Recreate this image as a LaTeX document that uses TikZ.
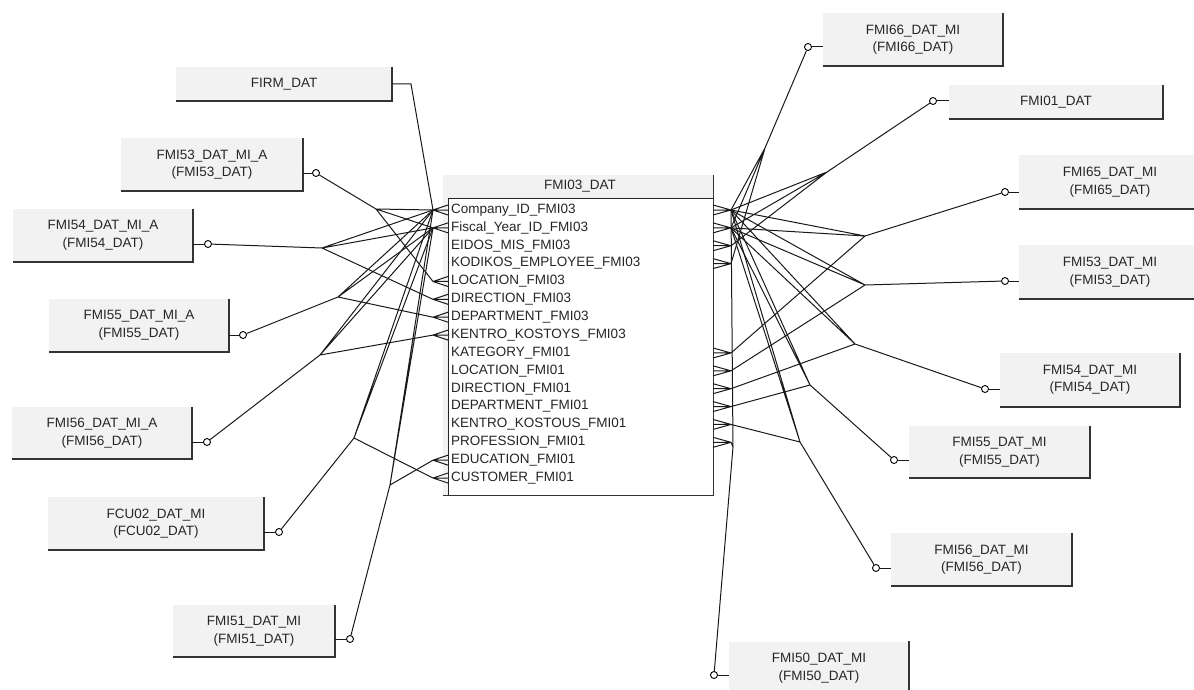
\documentclass[tikz,border=0pt]{standalone}
\usepackage{fontspec}
\setmainfont{Liberation Sans}
\usetikzlibrary{calc}

\begin{document}
\begin{tikzpicture}[x=1pt,y=-1pt,
		lbl/.style={font=\fontsize{13.5}{17.5}\selectfont, text=black!85, align=center},
		tbox/.style={lbl, fill=black!5, inner sep=0pt},
		boxrim/.style={line width=1.8pt, black!80},
		rel/.style={line width=1pt, black!90},
		foot/.style={line width=1pt, black!90},
		ring/.style={circle, draw, line width=0.9pt, fill=white, inner sep=0pt, minimum size=7pt},
		rowtxt/.style={lbl, anchor=west, inner sep=0pt}]
		
		\useasboundingbox (0,0) rectangle (1194,690);
		
		% tables on the left
		\node[tbox, minimum width=216pt, minimum height=34pt] (firm) at (284,84) {FIRM\_DAT};
		\node[tbox, minimum width=182pt, minimum height=53pt] (a53) at (212,164.5) {FMI53\_DAT\_MI\_A\\(FMI53\_DAT)};
		\node[tbox, minimum width=180pt, minimum height=53pt] (a54) at (103,235.5) {FMI54\_DAT\_MI\_A\\(FMI54\_DAT)};
		\node[tbox, minimum width=180pt, minimum height=53pt] (a55) at (139,325.5) {FMI55\_DAT\_MI\_A\\(FMI55\_DAT)};
		\node[tbox, minimum width=180pt, minimum height=52pt] (a56) at (102,433) {FMI56\_DAT\_MI\_A\\(FMI56\_DAT)};
		\node[tbox, minimum width=216pt, minimum height=53pt] (fcu02) at (156,523.5) {FCU02\_DAT\_MI\\(FCU02\_DAT)};
		\node[tbox, minimum width=162pt, minimum height=52pt] (m51) at (254,631) {FMI51\_DAT\_MI\\(FMI51\_DAT)};
		
		% tables on the right
		\node[tbox, minimum width=180pt, minimum height=53pt] (m66) at (913,39.5) {FMI66\_DAT\_MI\\(FMI66\_DAT)};
		\node[tbox, minimum width=214pt, minimum height=34pt] (m01) at (1056,102) {FMI01\_DAT};
		\node[tbox, minimum width=182pt, minimum height=54pt] (m65) at (1110,182) {FMI65\_DAT\_MI\\(FMI65\_DAT)};
		\node[tbox, minimum width=182pt, minimum height=54pt] (m53) at (1110,272) {FMI53\_DAT\_MI\\(FMI53\_DAT)};
		\node[tbox, minimum width=180pt, minimum height=54pt] (m54) at (1090,380) {FMI54\_DAT\_MI\\(FMI54\_DAT)};
		\node[tbox, minimum width=181pt, minimum height=52pt] (m55) at (999.5,452) {FMI55\_DAT\_MI\\(FMI55\_DAT)};
		\node[tbox, minimum width=181pt, minimum height=53pt] (m56) at (981.5,559.5) {FMI56\_DAT\_MI\\(FMI56\_DAT)};
		\node[tbox, minimum width=180pt, minimum height=53pt] (m50) at (819,668) {FMI50\_DAT\_MI\\(FMI50\_DAT)};
		
		\foreach \b in {firm,a53,a54,a55,a56,fcu02,m51,m66,m01,m65,m53,m54,m55,m56,m50}
		\draw[boxrim] (\b.north east) -- (\b.south east) -- (\b.south west);
		
		% the main table
		\node[fill=black!5, minimum width=270pt, minimum height=320pt, anchor=north west, inner sep=0pt] (fmi03) at (443,175) {};
		\draw[line width=0.8pt, black!85, fill=white] (448,198) rectangle (fmi03.south east);
		\draw[boxrim] (fmi03.north east) -- (fmi03.south east) -- (fmi03.south west);
		\node[lbl] (title) at (580,186) {FMI03\_DAT};
		
		\foreach \t [count=\i] in {Company\_ID\_FMI03, Fiscal\_Year\_ID\_FMI03, EIDOS\_MIS\_FMI03,
			KODIKOS\_EMPLOYEE\_FMI03, LOCATION\_FMI03, DIRECTION\_FMI03, DEPARTMENT\_FMI03,
			KENTRO\_KOSTOYS\_FMI03, KATEGORY\_FMI01, LOCATION\_FMI01, DIRECTION\_FMI01,
			DEPARTMENT\_FMI01, KENTRO\_KOSTOUS\_FMI01, PROFESSION\_FMI01, EDUCATION\_FMI01,
			CUSTOMER\_FMI01}
		{
			\node[rowtxt] (r\i) at (451,{210+(\i-1)*17.87}) {\t};
			\coordinate (lf\i) at (433,{210+(\i-1)*17.87});
			\coordinate (rf\i) at (731,{210+(\i-1)*17.87});
		}
		
		% crow's feet
		\foreach \i in {1,2,5,6,7,8,15,16}
		\draw[foot] (lf\i) -- ++(15,-5) (lf\i) -- ++(15,0) (lf\i) -- ++(15,5);
		\foreach \i in {1,2,3,4,9,10,11,12,13,14}
		\draw[foot] (rf\i) -- ++(-18,-5) (rf\i) -- ++(-18,0) (rf\i) -- ++(-18,5);
		
		% optional ends
		\node[ring] (oa53) at (316,173) {};
		\node[ring] (oa54) at (208,244) {};
		\node[ring] (oa55) at (243,335) {};
		\node[ring] (oa56) at (207,442) {};
		\node[ring] (ofcu) at (279,532) {};
		\node[ring] (o51) at (350,639) {};
		\node[ring] (o66) at (808,47) {};
		\node[ring] (o01) at (933,101) {};
		\node[ring] (o65) at (1005,192) {};
		\node[ring] (o53) at (1005,281) {};
		\node[ring] (o54) at (985,389) {};
		\node[ring] (o55) at (894,460) {};
		\node[ring] (o56) at (876,568) {};
		\node[ring] (o50) at (714,675) {};
		
		\foreach \b/\o in {a53/oa53,a54/oa54,a55/oa55,a56/oa56,fcu02/ofcu,m51/o51}
		\draw[rel] (\b.east |- \o) -- (\o);
		\foreach \b/\o in {m66/o66,m01/o01,m65/o65,m53/o53,m54/o54,m55/o55,m56/o56,m50/o50}
		\draw[rel] (\o) -- (\b.west |- \o);
		
		% branch points
		\coordinate (kfirm) at (411,84);
		\coordinate (ka53) at (376,209);
		\coordinate (ka54) at (322,248);
		\coordinate (ka55) at (338,297);
		\coordinate (ka56) at (320,355);
		\coordinate (kfcu) at (354,438);
		\coordinate (k51) at (390,485);
		\coordinate (k66) at (765,148);
		\coordinate (k01) at (827,172);
		\coordinate (k65) at (865,236);
		\coordinate (k53) at (865,285);
		\coordinate (k54) at (855,344);
		\coordinate (k55) at (810,385);
		\coordinate (k56) at (800,442);
		\coordinate (k50) at (733,447);
		
		% relations, left side
		\draw[rel] (firm.east) -- (kfirm) -- (lf1);
		\draw[rel] (oa53) -- (ka53) -- (lf1) (ka53) -- (lf2) (ka53) -- (lf5);
		\draw[rel] (oa54) -- (ka54) -- (lf1) (ka54) -- (lf2) (ka54) -- (lf6);
		\draw[rel] (oa55) -- (ka55) -- (lf1) (ka55) -- (lf2) (ka55) -- (lf7);
		\draw[rel] (oa56) -- (ka56) -- (lf1) (ka56) -- (lf2) (ka56) -- (lf8);
		\draw[rel] (ofcu) -- (kfcu) -- (lf1) (kfcu) -- (lf2) (kfcu) -- (lf16);
		\draw[rel] (o51) -- (k51) -- (lf1) (k51) -- (lf2) (k51) -- (lf15);
		
		% relations, right side
		\draw[rel] (o66) -- (k66) -- (rf1) (k66) -- (rf2) (k66) -- (rf4);
		\draw[rel] (o01) -- (k01) -- (rf1) (k01) -- (rf2) (k01) -- (rf3);
		\draw[rel] (o65) -- (k65) -- (rf1) (k65) -- (rf2) (k65) -- (rf9);
		\draw[rel] (o53) -- (k53) -- (rf1) (k53) -- (rf2) (k53) -- (rf10);
		\draw[rel] (o54) -- (k54) -- (rf1) (k54) -- (rf2) (k54) -- (rf11);
		\draw[rel] (o55) -- (k55) -- (rf1) (k55) -- (rf2) (k55) -- (rf12);
		\draw[rel] (o56) -- (k56) -- (rf1) (k56) -- (rf2) (k56) -- (rf13);
		\draw[rel] (o50) -- (k50) -- (rf14) (k50) -- (rf1);
		
	\end{tikzpicture}
\end{document}
